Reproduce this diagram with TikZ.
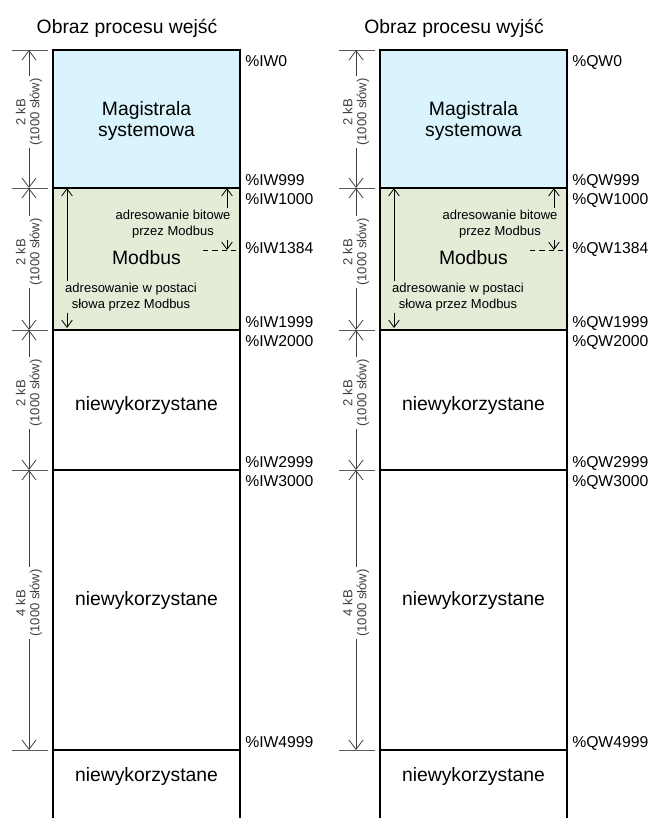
\documentclass[tikz,border=0pt]{standalone}
\usepackage{fontspec}
\setmainfont{Liberation Sans}
\usetikzlibrary{arrows.meta,positioning,calc}
\definecolor{sysblue}{RGB}{217,244,252}
\definecolor{modgreen}{RGB}{228,236,216}
\tikzset{
  >={Straight Barb[length=7pt,width=10.5pt]},
  mem/.style={line width=1.1pt},
  dimline/.style={black!75,line width=0.6pt,<->},
  tickline/.style={black!65,line width=0.6pt},
  dimlbl/.style={rotate=90,align=center,fill=white,inner sep=1.5pt,
    font=\fontsize{9.8}{10.5}\selectfont},
  addr/.style={inner sep=0pt,anchor=base west,font=\fontsize{11.8}{13}\selectfont},
  area/.style={align=center,font=\fontsize{14.5}{15.5}\selectfont},
  heading/.style={anchor=base,font=\fontsize{14.5}{17}\selectfont},
  note/.style={align=center,inner sep=1pt,font=\fontsize{9.75}{12}\selectfont},
  modarrow/.style={black,line width=0.6pt,>={Straight Barb[length=5.5pt,width=8pt]}},
}
\begin{document}
\begin{tikzpicture}[x=0.75pt,y=-0.75pt]
  \useasboundingbox (0,0) rectangle (651,818);

  \foreach \dx/\pre/\io in {0/I/wejść,327/Q/wyjść}
  {
  \begin{scope}[shift={(\dx,0)}]
    % title
    \node[heading] (title) at (127,33) {Obraz procesu \io};

    % memory areas
    \fill[sysblue] (53,50) rectangle (240,188);
    \fill[modgreen] (53,188) rectangle (240,330);
    \draw[mem] (53,818) -- (53,50) -- (240,50) -- (240,818);
    \foreach \y in {188,330,470,750}
      \draw[mem] (53,\y) -- (240,\y);

    % size marks on the left
    \foreach \y in {50,188,330,470,750}
      \draw[tickline] (12,\y) -- (48,\y);
    \coordinate (d1) at (29,50);
    \coordinate (d2) at (29,188);
    \coordinate (d3) at (29,330);
    \coordinate (d4) at (29,470);
    \coordinate (d5) at (29,750);
    \foreach \a/\b/\kb in {d1/d2/2,d2/d3/2,d3/d4/2,d4/d5/4}
      \draw[dimline] (\a) -- node[dimlbl,xshift=5.25pt] {\kb~kB\\(1000 słów)} (\b);

    % area names
    \node[area] (sys) at (146.5,121) {Magistrala\\systemowa};
    \node[area] (mod) at (146.5,258) {Modbus};
    \node[area] (free1) at (146.5,405) {niewykorzystane};
    \node[area] (free2) at (146.5,600) {niewykorzystane};
    \node[area] (free3) at (146.5,776) {niewykorzystane};

    % Modbus access
    \node[note] (bitlbl) at (173,224) {adresowanie bitowe\\przez Modbus};
    \node[note] (wordlbl) at (131,297) {adresowanie w postaci\\słowa przez Modbus};
    \coordinate (bt) at (227,188);
    \coordinate (bb) at (227,250);
    \coordinate (wt) at (67,188);
    \coordinate (wb) at (67,328);
    \draw[modarrow,<-] (bt) -- (bt |- bitlbl.north);
    \draw[modarrow,->] (bb |- bitlbl.south) -- (bb);
    \draw[modarrow,<-] (wt) -- (wt |- wordlbl.north);
    \draw[modarrow,->] (wb |- wordlbl.south) -- (wb);
    \draw[modarrow,dashed,dash pattern=on 4pt off 3pt] (203,250) -- (240,250);

    % addresses
    \foreach \y/\n in {66/0,185/999,204/1000,253/1384,327/1999,346/2000,
                       467/2999,486/3000,747/4999}
      \node[addr] at (245,\y) {\%\pre W\n};
  \end{scope}
  }
\end{tikzpicture}
\end{document}
